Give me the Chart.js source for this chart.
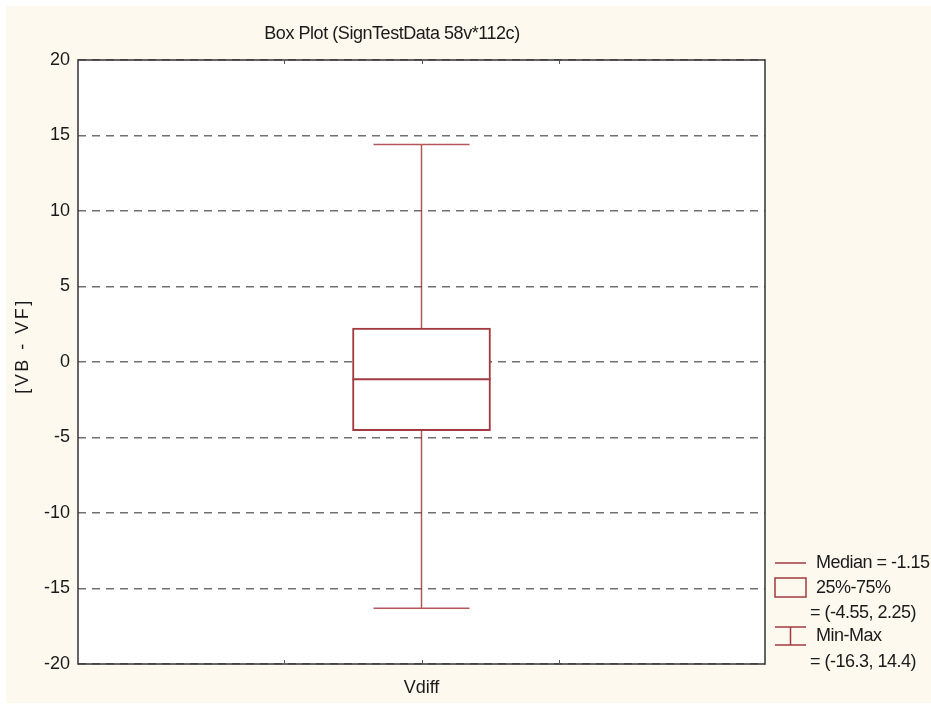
<!DOCTYPE html>
<html lang="en">
<head>
    <meta charset="UTF-8">
    <title>Box Plot</title>
    <script src="https://cdn.jsdelivr.net/npm/chart.js"></script>
    <style>
        body {
            margin: 0;
            padding: 0;
            background: #ffffff;
        }
        .chart-box {
            position: absolute;
            left: 0;
            top: 0;
            width: 931px;
            height: 704px;
        }
    </style>
</head>
<body>

    <div class="chart-box">
        <canvas id="boxChart"></canvas>
    </div>

    <script>
        // data
        const categories = ['Vdiff'];
        const medians = [-1.15];
        const q1s = [-4.55];
        const q3s = [2.25];
        const mins = [-16.3];
        const maxs = [14.4];
        const yTicks = [-20, -15, -10, -5, 0, 5, 10, 15, 20];

        const boxColor = '#a33a40';
        const textColor = '#1a1a1a';
        const fontFamily = '"Liberation Sans", Arial, sans-serif';

        // the box sits in the middle of 4 divisions
        const catPos = categories.map((c, i) => i);

        const boxPlotPlugin = {
            id: 'boxPlotPlugin',
            beforeDraw(chart) {
                const ctx = chart.ctx;
                const area = chart.chartArea;
                ctx.save();
                ctx.fillStyle = '#fdf9ef';
                ctx.fillRect(6, 6, chart.width - 6, chart.height - 7);
                ctx.fillStyle = '#ffffff';
                ctx.fillRect(area.left, area.top, area.right - area.left, area.bottom - area.top);
                ctx.restore();
            },
            beforeDatasetsDraw(chart) {
                const ctx = chart.ctx;
                const x = chart.scales.x;
                const y = chart.scales.y;
                ctx.save();
                ctx.strokeStyle = 'rgba(160, 45, 50, 0.8)';
                ctx.lineWidth = 1.5;
                catPos.forEach((p, i) => {
                    const cx = x.getPixelForValue(p);
                    const half = 48;
                    ctx.beginPath();
                    ctx.moveTo(cx, y.getPixelForValue(maxs[i]));
                    ctx.lineTo(cx, y.getPixelForValue(mins[i]));
                    ctx.moveTo(cx - half, y.getPixelForValue(maxs[i]));
                    ctx.lineTo(cx + half, y.getPixelForValue(maxs[i]));
                    ctx.moveTo(cx - half, y.getPixelForValue(mins[i]));
                    ctx.lineTo(cx + half, y.getPixelForValue(mins[i]));
                    ctx.stroke();
                });
                ctx.restore();
            },
            afterDatasetsDraw(chart) {
                const ctx = chart.ctx;
                const area = chart.chartArea;
                const x = chart.scales.x;
                const y = chart.scales.y;
                ctx.save();
                // median
                ctx.strokeStyle = boxColor;
                ctx.lineWidth = 2;
                catPos.forEach((p, i) => {
                    const cx = x.getPixelForValue(p);
                    const my = y.getPixelForValue(medians[i]);
                    ctx.beginPath();
                    ctx.moveTo(cx - 69, my);
                    ctx.lineTo(cx + 69, my);
                    ctx.stroke();
                });

                // frame
                ctx.strokeStyle = '#333333';
                ctx.lineWidth = 1.5;
                ctx.strokeRect(area.left, area.top, area.right - area.left, area.bottom - area.top);

                // inward tick marks on top and bottom
                ctx.lineWidth = 1;
                ctx.strokeStyle = '#555555';
                x.ticks.forEach(t => {
                    if (t.value <= x.min || t.value >= x.max) return;
                    const px = Math.round(x.getPixelForValue(t.value)) + 0.5;
                    ctx.beginPath();
                    ctx.moveTo(px, area.top);
                    ctx.lineTo(px, area.top + 4);
                    ctx.moveTo(px, area.bottom);
                    ctx.lineTo(px, area.bottom - 4);
                    ctx.stroke();
                });

                // title
                ctx.fillStyle = textColor;
                ctx.font = '18px ' + fontFamily;
                ctx.letterSpacing = '-0.45px';
                ctx.textAlign = 'center';
                ctx.textBaseline = 'middle';
                ctx.fillText('Box Plot (SignTestData 58v*112c)', 392, 34);

                // y axis title
                ctx.save();
                ctx.translate(23, 347);
                ctx.rotate(-Math.PI / 2);
                ctx.letterSpacing = '2.5px';
                ctx.fillText('[VB - VF]', 1, 0);
                ctx.restore();

                // legend
                const lx = area.right + 10;
                const tx = lx + 41;
                ctx.letterSpacing = '-0.5px';
                ctx.textAlign = 'left';
                ctx.strokeStyle = boxColor;
                ctx.lineWidth = 1.5;
                ctx.beginPath();
                ctx.moveTo(lx, 563);
                ctx.lineTo(lx + 31, 563);
                ctx.stroke();
                ctx.fillText('Median = ' + medians[0], tx, 563);

                ctx.strokeRect(lx, 578, 31, 19);
                ctx.fillText('25%-75%', tx, 588);
                ctx.fillText('= (' + q1s[0] + ', ' + q3s[0] + ')', tx - 6, 613);

                ctx.beginPath();
                ctx.moveTo(lx, 627);
                ctx.lineTo(lx + 31, 627);
                ctx.moveTo(lx + 15.5, 627);
                ctx.lineTo(lx + 15.5, 645);
                ctx.moveTo(lx, 645);
                ctx.lineTo(lx + 31, 645);
                ctx.stroke();
                ctx.fillText('Min-Max', tx, 636);
                ctx.fillText('= (' + mins[0] + ', ' + maxs[0] + ')', tx - 6, 662);
                ctx.restore();
            }
        };

        const ctx = document.getElementById('boxChart').getContext('2d');
        new Chart(ctx, {
            type: 'bar',
            data: {
                datasets: [{
                    data: catPos.map((p, i) => ({ x: p, y: [q1s[i], q3s[i]] })),
                    backgroundColor: '#ffffff',
                    borderColor: boxColor,
                    borderWidth: 2,
                    borderSkipped: false,
                    barThickness: 138
                }]
            },
            options: {
                responsive: true,
                maintainAspectRatio: false,
                animation: false,
                layout: {
                    padding: { left: 0, top: 60, right: 166, bottom: 0 }
                },
                plugins: {
                    legend: { display: false },
                    tooltip: { enabled: false }
                },
                scales: {
                    x: {
                        type: 'linear',
                        min: -2,
                        max: 2,
                        afterBuildTicks: (scale) => {
                            scale.ticks = [-2, -1, 0, 1, 2].map(v => ({ value: v }));
                        },
                        afterFit: (scale) => { scale.height = 40; },
                        grid: { display: false },
                        border: { display: false },
                        ticks: {
                            padding: 5,
                            color: textColor,
                            font: { family: fontFamily, size: 18 },
                            callback: (v) => (catPos.indexOf(v) >= 0 ? categories[catPos.indexOf(v)] : '')
                        }
                    },
                    y: {
                        min: -20,
                        max: 20,
                        afterBuildTicks: (scale) => {
                            scale.ticks = yTicks.map(v => ({ value: v }));
                        },
                        afterFit: (scale) => { scale.width = 78; },
                        grid: {
                            color: '#707070',
                            lineWidth: 1.5,
                            drawTicks: false
                        },
                        border: { display: false, dash: [8, 6] },
                        ticks: {
                            padding: 8,
                            color: textColor,
                            font: { family: fontFamily, size: 18 }
                        },
                        title: { display: false }
                    }
                }
            },
            plugins: [boxPlotPlugin]
        });
    </script>

</body>
</html>
